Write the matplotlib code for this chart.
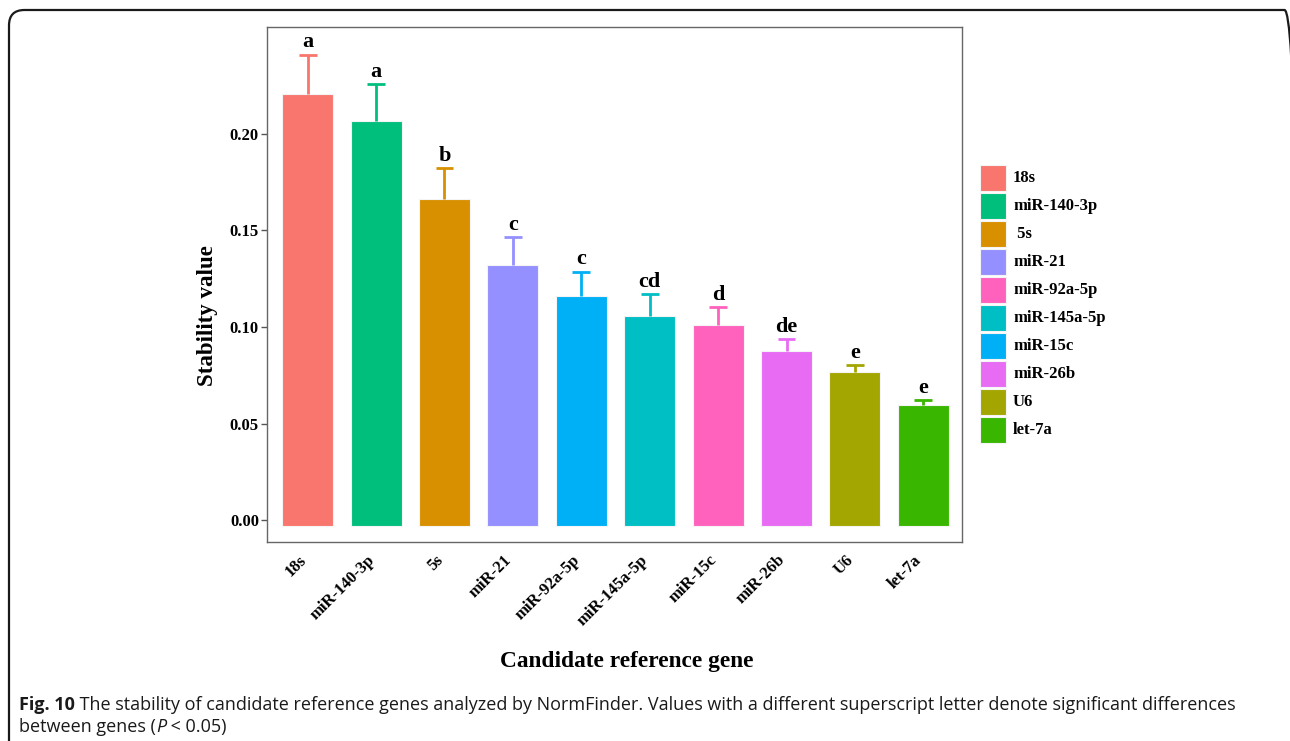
import matplotlib
matplotlib.use("Agg")
import matplotlib.pyplot as plt
from matplotlib.patches import FancyBboxPatch, Rectangle
from matplotlib.transforms import ScaledTranslation, blended_transform_factory
import numpy as np

# Data
genes = ["18s", "miR-140-3p", "5s", "miR-21", "miR-92a-5p",
         "miR-145a-5p", "miR-15c", "miR-26b", "U6", "let-7a"]
stability = [0.2208, 0.2067, 0.1665, 0.1321, 0.1162,
             0.1057, 0.1010, 0.0876, 0.0766, 0.0596]
errors = [0.0203, 0.0192, 0.0158, 0.0145, 0.0124,
          0.0113, 0.0094, 0.0061, 0.0038, 0.0027]
letters = ["a", "a", "b", "c", "c", "cd", "d", "de", "e", "e"]
bar_colors = ["#F8766D", "#00BF7D", "#D89000", "#9590FF", "#00B0F6",
              "#00BFC4", "#FF62BC", "#E76BF3", "#A3A500", "#39B600"]
legend_labels = ["18s", "miR-140-3p", " 5s", "miR-21", "miR-92a-5p",
                 "miR-145a-5p", "miR-15c", "miR-26b", "U6", "let-7a"]
legend_colors = ["#F8766D", "#00BF7D", "#D89000", "#9590FF", "#FF62BC",
                 "#00BFC4", "#00B0F6", "#E76BF3", "#A3A500", "#39B600"]
y_ticks = [0.00, 0.05, 0.10, 0.15, 0.20]
baseline = -0.0030

serif = ["Liberation Serif", "DejaVu Serif"]
W, H = 1290, 741

fig = plt.figure(figsize=(W / 100, H / 100), dpi=100)
ax = fig.add_axes([0.2072, 0.2690, 0.5383, 0.6942])

x = np.arange(len(genes))
heights = [v - baseline for v in stability]
ax.bar(x, heights, bottom=baseline, width=0.745, color=bar_colors,
       edgecolor="#f4f4f4", linewidth=0.8, zorder=2)

# upper error bars only: stem from bar top plus a cap
cap_half = 0.13
for xi, v, e, c in zip(x, stability, errors, bar_colors):
    ax.plot([xi, xi], [v, v + e], color=c, linewidth=2.0, zorder=3,
            solid_capstyle="butt")
    ax.plot([xi - cap_half, xi + cap_half], [v + e, v + e], color=c,
            linewidth=2.0, zorder=3, solid_capstyle="butt")

for xi, v, e, lab in zip(x, stability, errors, letters):
    ax.text(xi, v + e + 0.0012, lab, ha="center", va="bottom",
            fontsize=16, fontweight="bold", family=serif, zorder=4)

ax.set_xlim(-0.59, 9.56)
ax.set_ylim(-0.0111, 0.2552)
ax.set_yticks(y_ticks)
ax.set_yticklabels([f"{t:.2f}" for t in y_ticks], fontsize=12,
                   fontweight="bold", family=serif)
ax.set_xticks(x)
ax.set_xticklabels([])
ax.tick_params(axis="x", length=0)
ax.tick_params(axis="y", length=4, width=1, color="#555555", pad=2)
for sp in ax.spines.values():
    sp.set_color("#666666")
    sp.set_linewidth(1.0)

# rotated category labels under each bar
lab_trans = blended_transform_factory(ax.transData, ax.transAxes) + \
    ScaledTranslation(-4 / 100, -16 / 100, fig.dpi_scale_trans)
for xi, g in zip(x, genes):
    ax.text(xi, 0, g, transform=lab_trans, rotation=45, ha="right",
            va="center", rotation_mode="anchor", fontsize=12,
            fontweight="bold", family=serif, clip_on=False)

ax.set_ylabel("Stability value", fontsize=16.5, fontweight="bold",
              family=serif)
ax.yaxis.set_label_coords(-0.0715, 0.439)
ax.set_xlabel("Candidate reference gene", fontsize=16.8, fontweight="bold",
              family=serif)
ax.xaxis.set_label_coords(0.518, -0.2125)

# Legend: colour keys with labels to the right of the panel
key_x, key_w, key_h, pitch, top0 = 980, 26, 26, 28, 165
for i, (lab, col) in enumerate(zip(legend_labels, legend_colors)):
    ytop = top0 + i * pitch
    fig.patches.append(Rectangle((key_x / W, 1 - (ytop + key_h) / H),
                                 key_w / W, key_h / H,
                                 transform=fig.transFigure,
                                 facecolor=col, edgecolor="#f4f4f4",
                                 linewidth=0.8))
    fig.text((key_x + key_w + 7) / W, 1 - (ytop + key_h / 2) / H, lab,
             ha="left", va="center", fontsize=12, fontweight="bold",
             family=serif)

# Rounded frame around the figure panel
frame = FancyBboxPatch((9 / W, -30 / H), (1300 - 9) / W,
                       (H + 30 - 10) / H,
                       boxstyle="round,pad=0,rounding_size=0.012",
                       transform=fig.transFigure, fill=False,
                       edgecolor="#1a1a1a", linewidth=1.6,
                       mutation_aspect=W / H)
fig.patches.append(frame)

# Caption
cap_font = "Open Sans"
fig.canvas.draw()
renderer = fig.canvas.get_renderer()


def put_run(parts, x0, y0):
    xpos = x0
    for txt, weight, style in parts:
        t = fig.text(xpos, y0, txt, ha="left", va="center", fontsize=13.0,
                     family=cap_font, fontweight=weight, style=style,
                     color="#1a1a1a")
        bb = t.get_window_extent(renderer=renderer)
        xpos = xpos + bb.width / fig.bbox.width


put_run([("Fig. 10", "bold", "normal"),
         (" The stability of candidate reference genes analyzed by NormFinder. "
          "Values with a different superscript letter denote significant differences",
          "normal", "normal")], 19 / W, 1 - 705 / H)
put_run([("between genes (", "normal", "normal"),
         ("P", "normal", "italic"),
         (" < 0.05)", "normal", "normal")], 19 / W, 1 - 727 / H)

fig.savefig("out.png", dpi=100)
